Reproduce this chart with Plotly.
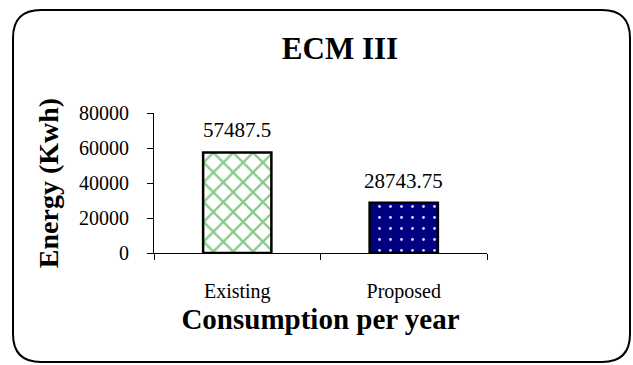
import plotly.graph_objects as go

categories = ["Existing", "Proposed"]
values = [57487.5, 28743.75]
value_labels = ["57487.5", "28743.75"]
y_ticks = [0, 20000, 40000, 60000, 80000]
y_tick_text = ["0", "20000", "40000", "60000", "80000"]

W, H = 633, 365
L, R, T, B = 154, 146, 113, 112
pw, ph = W - L - R, H - T - B

def px2paper(x, y):
    return (x - L) / pw, (H - B - y) / ph

fig = go.Figure()
fig.add_trace(go.Bar(
    x=categories[:1], y=values[:1],
    marker=dict(color="white", line=dict(color="black", width=2.5),
                pattern=dict(shape="x", fgcolor="#139413", bgcolor="white", size=14, solidity=0.3, fillmode="overlay")),
    showlegend=False,
))
fig.add_trace(go.Bar(
    x=categories[1:], y=values[1:],
    marker=dict(color="#000080", line=dict(color="black", width=2.5),
                pattern=dict(shape=".", fgcolor="#d8d8ff", bgcolor="#000080", size=11, solidity=0.05, fillmode="replace")),
    showlegend=False,
))

for c, v, t in zip(categories, values, value_labels):
    fig.add_annotation(x=c, y=v, text=t, showarrow=False, yshift=22,
                       font=dict(family="Liberation Serif", size=21, color="black"))

# rounded outer frame
x0, y0, x1, y1, r = 13, 10, 630, 362, 28
def P(x, y):
    a, b = px2paper(x, y)
    return f"{a:.4f},{b:.4f}"
path = (f"M {P(x0 + r, y0)} L {P(x1 - r, y0)} Q {P(x1, y0)} {P(x1, y0 + r)} "
        f"L {P(x1, y1 - r)} Q {P(x1, y1)} {P(x1 - r, y1)} "
        f"L {P(x0 + r, y1)} Q {P(x0, y1)} {P(x0, y1 - r)} "
        f"L {P(x0, y0 + r)} Q {P(x0, y0)} {P(x0 + r, y0)} Z")
fig.add_shape(type="path", path=path, xref="paper", yref="paper",
              line=dict(color="black", width=2), layer="below")

fig.update_layout(
    width=W, height=H,
    margin=dict(l=L, r=R, t=T, b=B),
    paper_bgcolor="white", plot_bgcolor="white",
    bargap=0.59,
    font=dict(family="Liberation Serif", color="black"),
    title=dict(text="<b>ECM III</b>", x=340 / W, xanchor="center", y=1 - 48 / H, yanchor="middle",
               font=dict(family="Liberation Serif", size=31, color="black")),
)
fig.update_xaxes(showline=True, linecolor="black", linewidth=1, ticks="outside", ticklen=6,
                 tickcolor="black", tickson="boundaries", showgrid=False,
                 ticklabelstandoff=20,
                 tickfont=dict(family="Liberation Serif", size=20, color="black"),
                 title=dict(text="<b>Consumption per year</b>", standoff=6,
                            font=dict(family="Liberation Serif", size=29, color="black")))
fig.update_yaxes(range=[0, 80000], tickvals=y_ticks, ticktext=y_tick_text, showline=True,
                 linecolor="black", linewidth=1,
                 ticks="outside", ticklen=6, tickcolor="black", showgrid=False, zeroline=False,
                 ticklabelstandoff=14,
                 tickfont=dict(family="Liberation Serif", size=20, color="black"),
                 title=dict(text="<b>Energy (Kwh)</b>", standoff=12,
                            font=dict(family="Liberation Serif", size=28, color="black")))
fig.update_traces(cliponaxis=False)

fig.write_html("out.html")
